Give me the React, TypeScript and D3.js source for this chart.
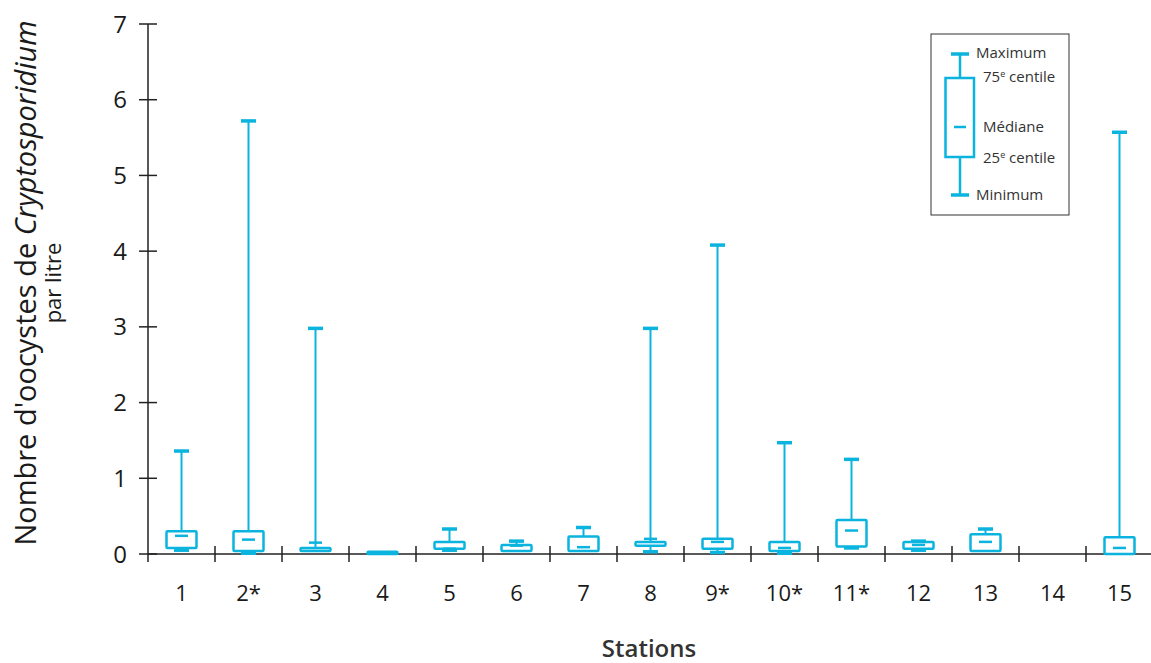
import React from 'react';
import * as d3 from 'd3';

const stations = ['1', '2*', '3', '4', '5', '6', '7', '8', '9*', '10*', '11*', '12', '13', '14', '15'];
const maxVals = [1.36, 5.72, 2.98, 0.03, 0.33, 0.17, 0.35, 2.98, 4.08, 1.47, 1.25, 0.17, 0.33, null, 5.57];
const q3Vals = [0.3, 0.3, 0.08, 0.03, 0.16, 0.12, 0.23, 0.16, 0.2, 0.16, 0.45, 0.16, 0.26, null, 0.22];
const medianVals = [0.24, 0.19, 0.15, 0.02, 0.07, 0.11, 0.09, 0.2, 0.16, 0.08, 0.31, 0.12, 0.16, null, 0.08];
const q1Vals = [0.08, 0.04, 0.04, 0.0, 0.07, 0.04, 0.04, 0.11, 0.07, 0.04, 0.1, 0.07, 0.04, null, 0.0];
const minVals = [0.05, 0.01, 0.04, 0.0, 0.05, 0.04, 0.04, 0.03, 0.02, 0.01, 0.08, 0.05, 0.04, null, 0.0];
const yTicks = [0, 1, 2, 3, 4, 5, 6, 7];

const W = 1151,
  H = 663;
const left = 148,
  bottom = 554,
  top = 24;
const blue = '#0ab4de';
const axisColor = '#222';
const font = "'Open Sans', 'Noto Sans', sans-serif";

export default function App() {
  const x = d3.scaleBand<string>().domain(stations).range([left, left + 67 * 15]);
  const y = d3.scaleLinear().domain([0, 7]).range([bottom, top]);
  const bw = 30,
    capW = 15,
    medW = 13;

  const boxes = stations
    .map((s, i) => ({
      s,
      max: maxVals[i],
      q3: q3Vals[i],
      med: medianVals[i],
      q1: q1Vals[i],
      min: minVals[i]
    }))
    .filter(d => d.max !== null);

  return (
    <svg width={W} height={H} style={{ position: 'absolute', left: 0, top: 0, background: '#fff' }} fontFamily={font}>
      {/* y axis */}
      <line x1={left} x2={left} y1={y(7)} y2={y(0) + 8} stroke={axisColor} strokeWidth={1.5} />
      {yTicks.map(t => (
        <g key={t}>
          <line x1={left - 9} x2={left + 9} y1={y(t)} y2={y(t)} stroke={axisColor} strokeWidth={1.5} />
          <text x={127} y={y(t)} dy="0.36em" textAnchor="end" fontSize={24} fill="#1a1a1a">
            {t}
          </text>
        </g>
      ))}

      {/* x axis */}
      <line x1={left} x2={W} y1={bottom} y2={bottom} stroke={axisColor} strokeWidth={1.5} />
      {stations.slice(1).map(s => (
        <line key={s} x1={x(s)} x2={x(s)} y1={bottom - 8} y2={bottom + 8} stroke={axisColor} strokeWidth={1.5} />
      ))}
      {stations.map(s => (
        <text key={s} x={(x(s) as number) + x.bandwidth() / 2} y={601} textAnchor="middle" fontSize={22} fill="#1a1a1a">
          {s}
        </text>
      ))}
      <text x={649} y={657} textAnchor="middle" fontSize={24} fontWeight={600} fill="#333">
        Stations
      </text>

      {/* y title */}
      <text transform="translate(36,283) rotate(-90)" textAnchor="middle" fontSize={29} fill="#1a1a1a">
        Nombre d'oocystes de <tspan fontStyle="italic">Cryptosporidium</tspan>
      </text>
      <text transform="translate(61,283) rotate(-90)" textAnchor="middle" fontSize={22} fill="#1a1a1a">
        par litre
      </text>

      {/* boxes */}
      {boxes.map(d => {
        const cx = (x(d.s) as number) + x.bandwidth() / 2;
        return (
          <g key={d.s} stroke={blue} strokeWidth={2} fill="none">
            {d.max! > d.q3! && (
              <>
                <line x1={cx} x2={cx} y1={y(d.max!)} y2={y(d.q3!)} />
                <line x1={cx - capW / 2} x2={cx + capW / 2} y1={y(d.max!)} y2={y(d.max!)} strokeWidth={3.5} />
              </>
            )}
            {d.min! < d.q1! && (
              <>
                <line x1={cx} x2={cx} y1={y(d.q1!)} y2={y(d.min!)} />
                <line x1={cx - capW / 2} x2={cx + capW / 2} y1={y(d.min!)} y2={y(d.min!)} strokeWidth={3.5} />
              </>
            )}
            <rect
              x={cx - bw / 2}
              y={y(d.q3!)}
              width={bw}
              height={Math.max(y(d.q1!) - y(d.q3!), 2)}
              fill="#fff"
              strokeWidth={2.5}
              rx={1}
            />
            <line x1={cx - medW / 2} x2={cx + medW / 2} y1={y(d.med!)} y2={y(d.med!)} strokeWidth={2.5} />
          </g>
        );
      })}

      {/* legend */}
      <rect x={931} y={34} width={138} height={181} fill="#fff" stroke="#333" strokeWidth={1} />
      <g stroke={blue} fill="none">
        <line x1={960} x2={960} y1={54} y2={195} strokeWidth={2.5} />
        <line x1={951} x2={969} y1={54} y2={54} strokeWidth={3.5} />
        <line x1={951} x2={969} y1={195} y2={195} strokeWidth={3.5} />
        <rect x={945.5} y={78} width={28.5} height={79} fill="#fff" strokeWidth={2.5} />
        <line x1={954} x2={966} y1={127} y2={127} strokeWidth={2.5} />
      </g>
      <g fontSize={15} fill="#333">
        <text x={976} y={58}>Maximum</text>
        <text x={983} y={82}>
          75<tspan fontSize={9} dy={-5}>e</tspan>
          <tspan dy={5}> centile</tspan>
        </text>
        <text x={983} y={132}>Médiane</text>
        <text x={983} y={163}>
          25<tspan fontSize={9} dy={-5}>e</tspan>
          <tspan dy={5}> centile</tspan>
        </text>
        <text x={976} y={200}>Minimum</text>
      </g>
    </svg>
  );
}
